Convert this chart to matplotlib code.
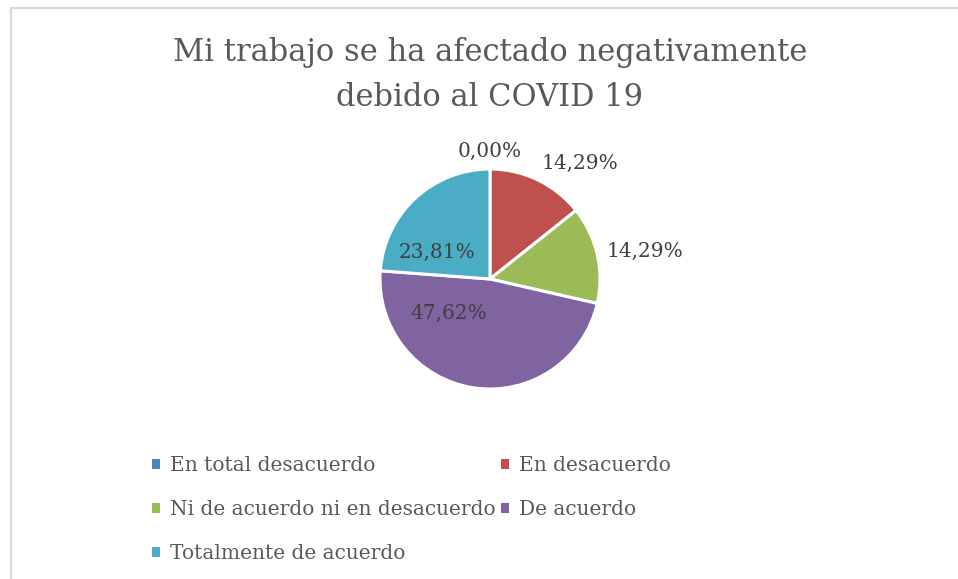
import numpy as np
import matplotlib
matplotlib.use("Agg")
import matplotlib.pyplot as plt
from matplotlib.patches import Patch
from matplotlib.lines import Line2D

title = "Mi trabajo se ha afectado negativamente\ndebido al COVID 19"
categories = ["En total desacuerdo", "En desacuerdo", "Ni de acuerdo ni en desacuerdo",
              "De acuerdo", "Totalmente de acuerdo"]
values = [0.00, 14.29, 14.29, 47.62, 23.81]
labels = ["0,00%", "14,29%", "14,29%", "47,62%", "23,81%"]
colors = ["#4F81BD", "#C0504D", "#9BBB59", "#8064A2", "#4BACC6"]

# label placement (radius factor, angle in degrees) - style only
label_pos = [(1.16, 90), (1.33, 52), (1.43, 10), (0.49, 220), (0.54, 153)]

W, H = 958, 579
fig = plt.figure(figsize=(W / 100, H / 100), dpi=100)
fig.patch.set_facecolor("white")

serif = "DejaVu Serif"

# chart frame (left and top edges visible)
fig.add_artist(Line2D([11 / W, 11 / W], [0, 1 - 8 / H], transform=fig.transFigure,
                      color="#D9D9D9", lw=1.5))
fig.add_artist(Line2D([11 / W, 1], [1 - 8 / H, 1 - 8 / H], transform=fig.transFigure,
                      color="#D9D9D9", lw=1.5))

fig.text(490 / W, 1 - 75 / H, title, ha="center", va="center", fontsize=22,
         color="#595959", family=serif, linespacing=1.55)

cx, cy, R = 490, 279, 110
lim = 1.5
size = R * lim * 2
ax = fig.add_axes([(cx - size / 2) / W, (H - cy - size / 2) / H, size / W, size / H])
wedges, _ = ax.pie(values, colors=colors, startangle=90, counterclock=False,
                   radius=1.0, wedgeprops=dict(edgecolor="white", linewidth=2.2))
ax.set_xlim(-lim, lim)
ax.set_ylim(-lim, lim)
ax.set_aspect("equal")
ax.axis("off")

for lab, (r, ang) in zip(labels, label_pos):
    a = np.deg2rad(ang)
    ax.text(r * np.cos(a), r * np.sin(a), lab, ha="center", va="center",
            fontsize=14.5, color="#404040", family=serif)

handles = [Patch(facecolor=c, edgecolor="none") for c in colors]
order = [0, 2, 4, 1, 3]
leg = fig.legend([handles[i] for i in order], [categories[i] for i in order],
                 ncol=2, loc="upper left", bbox_to_anchor=(134 / W, 1 - 438 / H),
                 frameon=False, prop=dict(family=serif, size=14.5),
                 handlelength=0.4, handleheight=0.4, handletextpad=0.5,
                 columnspacing=0.25, labelspacing=1.25, labelcolor="#595959")

fig.savefig("out.png", dpi=100, facecolor="white")
